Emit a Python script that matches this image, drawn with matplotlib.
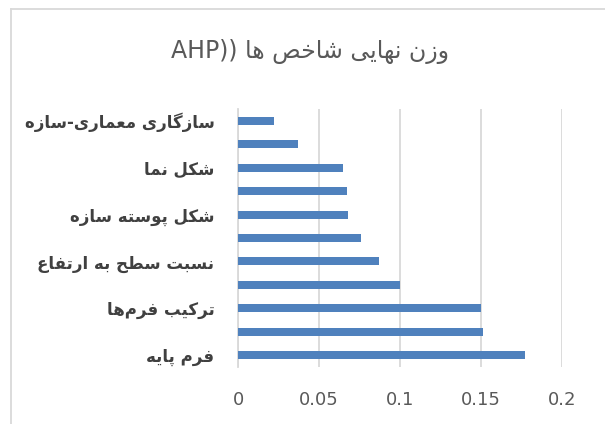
import re
import matplotlib
matplotlib.use('Agg')
import matplotlib.pyplot as plt
from matplotlib.lines import Line2D

# data (bottom to top, as drawn)
title = 'وزن نهایی شاخص ها ((AHP'
labels = ['فرم پایه', 'ترکیب فرم\u200cها', 'نسبت سطح به ارتفاع',
          'شکل پوسته سازه', 'شکل نما', 'سازگاری معماری-سازه']
label_pos = [0, 2, 4, 6, 8, 10]
weights = [0.177, 0.151, 0.150, 0.100, 0.087, 0.076, 0.068, 0.067, 0.065, 0.037, 0.022]
xticks = [0, 0.05, 0.1, 0.15, 0.2]
xtick_labels = ['0', '0.05', '0.1', '0.15', '0.2']

# small persian shaper (presentation forms) since matplotlib has no text shaping
FORMS = {
    'ا': 'FE8D FE8E', 'ر': 'FEAD FEAE', 'ز': 'FEAF FEB0', 'و': 'FEED FEEE', 'د': 'FEA9 FEAA',
    'ب': 'FE8F FE90 FE91 FE92', 'پ': 'FB56 FB57 FB58 FB59', 'ت': 'FE95 FE96 FE97 FE98',
    'ح': 'FEA1 FEA2 FEA3 FEA4', 'خ': 'FEA5 FEA6 FEA7 FEA8', 'س': 'FEB1 FEB2 FEB3 FEB4',
    'ش': 'FEB5 FEB6 FEB7 FEB8', 'ص': 'FEB9 FEBA FEBB FEBC', 'ط': 'FEC1 FEC2 FEC3 FEC4',
    'ع': 'FEC9 FECA FECB FECC', 'ف': 'FED1 FED2 FED3 FED4', 'ک': 'FB8E FB8F FB90 FB91',
    'گ': 'FB92 FB93 FB94 FB95', 'ل': 'FEDD FEDE FEDF FEE0', 'م': 'FEE1 FEE2 FEE3 FEE4',
    'ن': 'FEE5 FEE6 FEE7 FEE8', 'ه': 'FEE9 FEEA FEEB FEEC', 'ی': 'FBFC FBFD FBFE FBFF',
}
FORMS = {k: [chr(int(h, 16)) for h in v.split()] for k, v in FORMS.items()}
MIRROR = {'(': ')', ')': '('}


def shape(s):
    out = []
    for i, ch in enumerate(s):
        if ch not in FORMS:
            out.append(ch)
            continue
        prev = s[i - 1] if i > 0 else ''
        nxt = s[i + 1] if i + 1 < len(s) else ''
        jp = prev in FORMS and len(FORMS[prev]) == 4
        jn = len(FORMS[ch]) == 4 and nxt in FORMS
        f = FORMS[ch]
        out.append(f[3] if jp and jn else f[1] if jp else f[2] if jn else f[0])
    return ''.join(out).replace('\u200c', '')


def visual(s):
    runs = re.findall(r'[A-Za-z0-9.]+|[^A-Za-z0-9.]+', shape(s))
    parts = []
    for r in reversed(runs):
        if r[0].isascii() and r[0].isalnum():
            parts.append(r)
        else:
            parts.append(''.join(MIRROR.get(c, c) for c in reversed(r)))
    return ''.join(parts)


fig = plt.figure(figsize=(6.05, 4.24), dpi=100)
ax = fig.add_axes([238 / 605, 1 - 367 / 424, (562 - 238) / 605, (367 - 109) / 424])

ax.barh(range(len(weights)), weights, height=0.34, color='#4f81bd', zorder=3)
ax.set_xlim(0, 0.2)
ax.set_ylim(-0.5, len(weights) - 0.5)

ax.set_xticks(xticks)
ax.set_xticklabels(xtick_labels, fontsize=13, color='#595959')
ax.set_yticks(label_pos)
ax.set_yticklabels([visual(l) for l in labels], fontsize=12, fontweight='bold', color='#404040')
ax.tick_params(axis='both', length=0)
ax.tick_params(axis='x', pad=17)
ax.tick_params(axis='y', pad=17)

ax.grid(axis='x', color='#d9d9d9', linewidth=1.3, zorder=0)
for s in ['top', 'right', 'bottom']:
    ax.spines[s].set_visible(False)
ax.spines['left'].set_color('#d9d9d9')
ax.spines['left'].set_linewidth(1.3)

fig.text(310 / 605, 1 - 52 / 424, visual(title), ha='center', va='center',
         fontsize=17, color='#595959')

# chart area border (only left and top edges are in view)
bx, by = 10.5 / 605, 1 - 8.5 / 424
fig.add_artist(Line2D([bx, bx], [0, by], color='#d9d9d9', linewidth=1.3))
fig.add_artist(Line2D([bx, 1], [by, by], color='#d9d9d9', linewidth=1.3))

fig.savefig('out.png', dpi=100)
